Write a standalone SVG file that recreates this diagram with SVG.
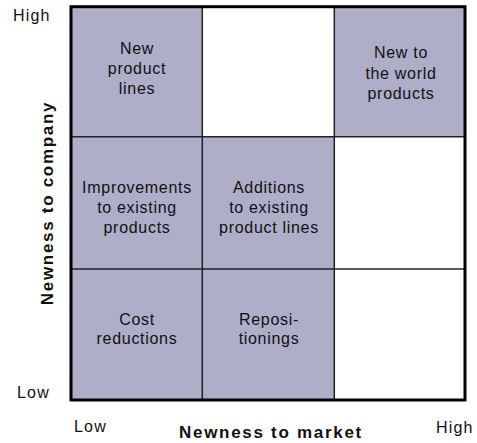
<svg xmlns="http://www.w3.org/2000/svg" width="477" height="443" viewBox="0 0 477 443">
<style>
.cell{fill:#aeaec9}
.blank{fill:#ffffff}
.div{stroke:#222;stroke-width:1.5;fill:none}
.frame{stroke:#000;stroke-width:3;fill:none}
.t{font-family:"Liberation Sans",Arial,sans-serif;font-size:16px;fill:#111;text-anchor:middle;letter-spacing:0.7px}
.ax{font-family:"Liberation Sans",Arial,sans-serif;font-size:16px;fill:#111;letter-spacing:1.2px}
.lab{font-family:"Liberation Sans",Arial,sans-serif;font-size:17px;font-weight:bold;fill:#111;text-anchor:middle;letter-spacing:1.7px}
</style>
<rect width="477" height="443" fill="#fff"/>
<g id="cell-new-product-lines">
<rect class="cell" x="71" y="6.7" width="131.3" height="130"/>
<text class="t" x="137" y="54">New</text>
<text class="t" x="137" y="74">product</text>
<text class="t" x="137" y="94">lines</text>
</g>
<g id="cell-empty-top-mid"><rect class="blank" x="202.3" y="6.7" width="132" height="130"/></g>
<g id="cell-new-to-world">
<rect class="cell" x="334.3" y="6.7" width="130.7" height="130"/>
<text class="t" x="401" y="58">New to</text>
<text class="t" x="401" y="79">the world</text>
<text class="t" x="401" y="99">products</text>
</g>
<g id="cell-improvements">
<rect class="cell" x="71" y="136.7" width="131.3" height="132.3"/>
<text class="t" x="137" y="193">Improvements</text>
<text class="t" x="137" y="213">to existing</text>
<text class="t" x="137" y="233">products</text>
</g>
<g id="cell-additions">
<rect class="cell" x="202.3" y="136.7" width="132" height="132.3"/>
<text class="t" x="269" y="193">Additions</text>
<text class="t" x="269" y="213">to existing</text>
<text class="t" x="269" y="233">product lines</text>
</g>
<g id="cell-empty-mid-right"><rect class="blank" x="334.3" y="136.7" width="130.7" height="132.3"/></g>
<g id="cell-cost-reductions">
<rect class="cell" x="71" y="269" width="131.3" height="131"/>
<text class="t" x="137" y="325">Cost</text>
<text class="t" x="137" y="344">reductions</text>
</g>
<g id="cell-repositionings">
<rect class="cell" x="202.3" y="269" width="132" height="131"/>
<text class="t" x="269" y="325">Reposi-</text>
<text class="t" x="269" y="344">tionings</text>
</g>
<g id="cell-empty-bottom-right"><rect class="blank" x="334.3" y="269" width="130.7" height="131"/></g>
<g id="connectors">
<line class="div" x1="202.3" y1="6.7" x2="202.3" y2="400"/>
<line class="div" x1="334.3" y1="6.7" x2="334.3" y2="400"/>
<line class="div" x1="71" y1="136.7" x2="465" y2="136.7" stroke="#444"/>
<line class="div" x1="71" y1="269" x2="465" y2="269" stroke="#444"/>
<rect class="frame" x="71" y="6.7" width="394" height="393.3"/>
</g>
<g id="axes">
<text class="ax" x="13" y="21" letter-spacing="1.6">High</text>
<text class="ax" x="17" y="398">Low</text>
<text class="ax" x="74" y="432">Low</text>
<text class="ax" x="436" y="433" letter-spacing="1.6">High</text>
<text class="lab" transform="translate(52.5,203) rotate(-90)" x="0" y="0">Newness to company</text>
<text class="lab" x="271" y="438">Newness to market</text>
</g>
</svg>
